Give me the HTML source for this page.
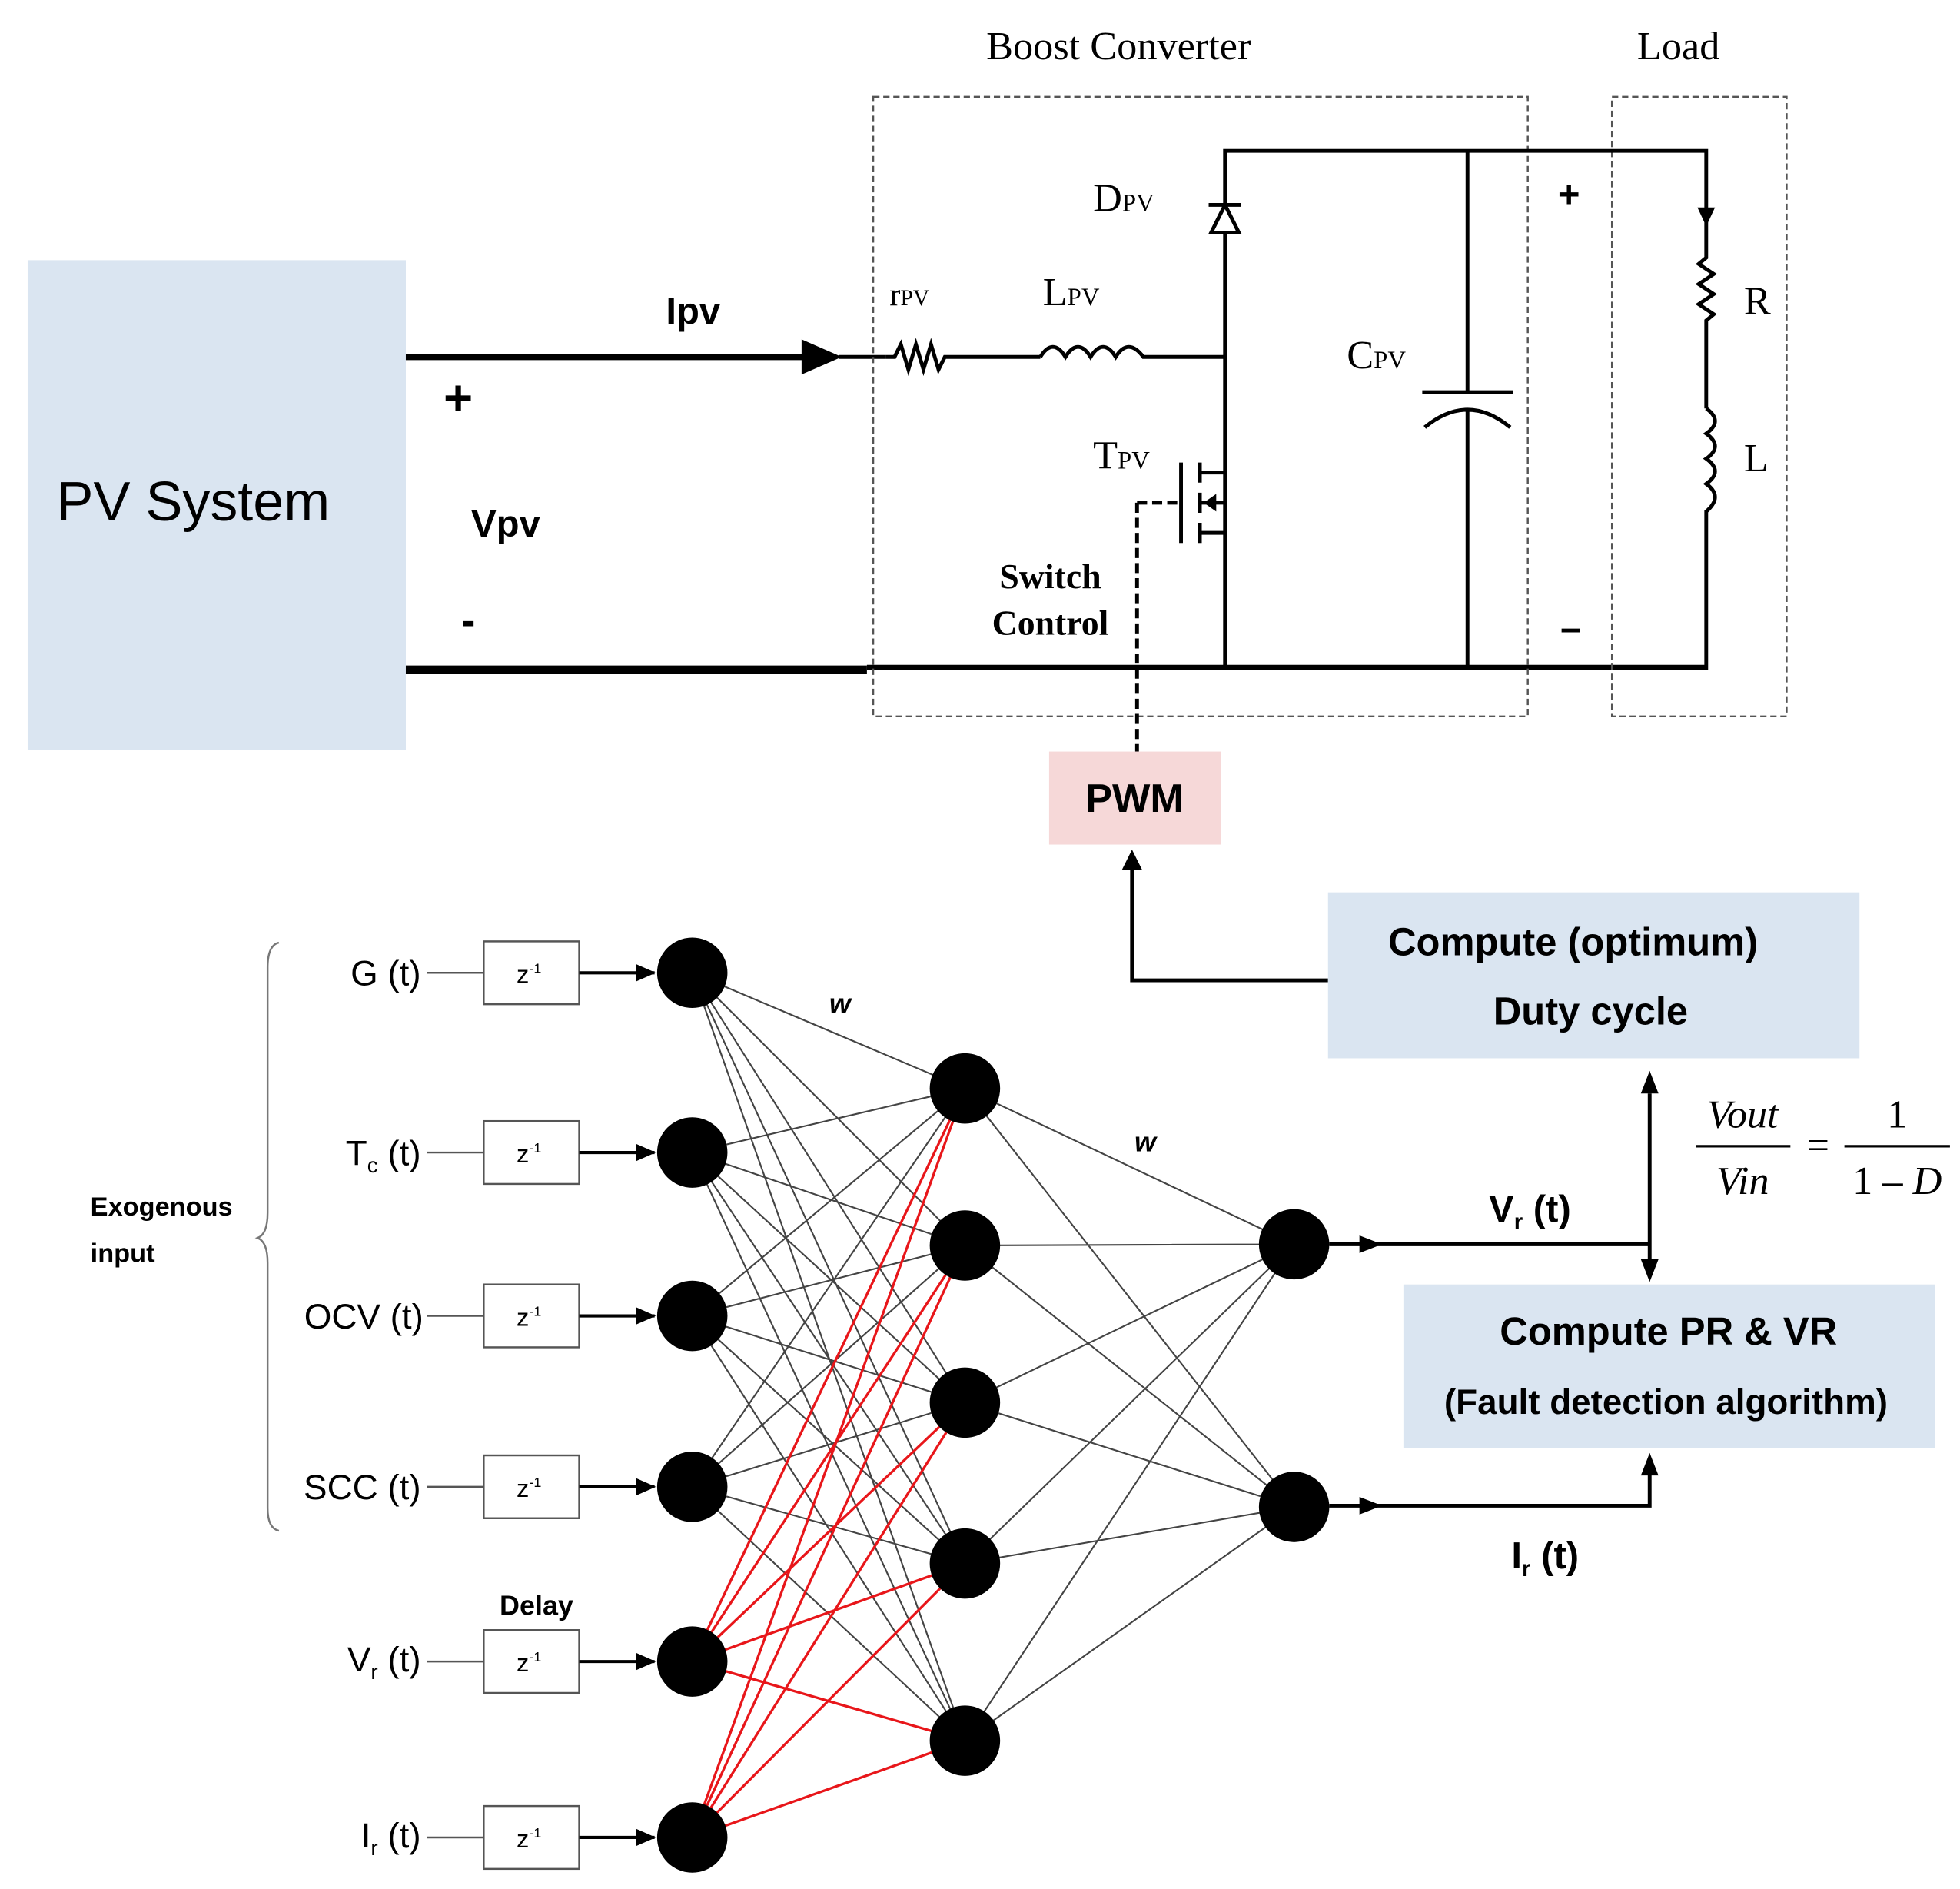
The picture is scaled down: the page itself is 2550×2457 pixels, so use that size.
<!DOCTYPE html>
<html><head><meta charset="utf-8"><style>html,body{margin:0;padding:0;background:#fff}svg{display:block}</style></head><body>
<svg width="2550" height="2457" viewBox="0 0 1560 1503" preserveAspectRatio="none" xmlns="http://www.w3.org/2000/svg">
<defs>
<marker id="ar2" markerWidth="16" markerHeight="14" refX="15" refY="7" orient="auto" markerUnits="userSpaceOnUse"><path d="M0,0 L16,7 L0,14z" fill="#000"/></marker></defs>
<g font-family="Liberation Sans, sans-serif">
<rect x="22" y="207" width="301" height="390" fill="#dae5f1"/>
<text x="45" y="414" font-size="44">PV System</text>
<line x1="323" y1="284" x2="640" y2="284" stroke="#000" stroke-width="5"/>
<path d="M638,270 L670,284 L638,298z" fill="#000"/>
<line x1="668" y1="284" x2="705" y2="284" stroke="#000" stroke-width="3"/>
<text x="530" y="258" font-size="30" font-weight="bold">Ipv</text>
<text x="353" y="330" font-size="40" font-weight="bold">+</text>
<text x="375" y="427" font-size="30" font-weight="bold">Vpv</text>
<text x="367" y="505" font-size="34" font-weight="bold">-</text>
<line x1="323" y1="533" x2="690" y2="533" stroke="#000" stroke-width="7"/>
<line x1="690" y1="531" x2="1358" y2="531" stroke="#000" stroke-width="4"/>
<rect x="695" y="77" width="521" height="493" fill="none" stroke="#555" stroke-width="1.5" stroke-dasharray="5,3"/>
<rect x="1283" y="77" width="139" height="493" fill="none" stroke="#555" stroke-width="1.5" stroke-dasharray="5,3"/>
<g font-family="Liberation Serif, serif" font-size="32">
<text x="785" y="47">Boost Converter</text><text x="1303" y="47">Load</text>
<text x="870" y="168">D<tspan font-size="20">PV</tspan></text>
<text x="708" y="243" font-size="26">r<tspan font-size="18">PV</tspan></text>
<text x="830" y="243">L<tspan font-size="20">PV</tspan></text>
<text x="1072" y="293">C<tspan font-size="20">PV</tspan></text>
<text x="870" y="373">T<tspan font-size="20">PV</tspan></text>
<text x="836" y="468" font-size="28" font-weight="bold" text-anchor="middle">Switch</text>
<text x="836" y="505" font-size="28" font-weight="bold" text-anchor="middle">Control</text>
<text x="1388" y="250">R</text><text x="1388" y="375">L</text>
</g>
<text x="1240" y="165" font-size="30" font-weight="bold">+</text>
<text x="1242" y="510" font-size="30" font-weight="bold">–</text>
<g fill="none" stroke="#000" stroke-width="3">
<path d="M705,284 L712,284 L717,274 L723,294 L729,274 L735,294 L741,274 L747,294 L752,284 L828,284"/>
<path d="M828,284 q10,-16 20,0 q10,-16 20,0 q10,-16 20,0 q10,-16 22,0 L975,284"/>
<path d="M975,533 L975,120 L1358,120 L1358,205 L1352,210 L1364,218 L1352,226 L1364,234 L1352,242 L1364,250 L1358,255 L1358,325"/>
<path d="M1358,325 q14,10 0,20 q14,10 0,20 q14,10 0,20 q14,10 0,22 L1358,533"/>
<path d="M1168,120 L1168,312 M1132,312 L1204,312 M1134,340 Q1168,312 1202,340 M1168,326 L1168,533"/>
<path d="M940,368 L940,432 M955,368 L955,384 M955,392 L955,408 M955,416 L955,432 M955,376 L975,376 M955,400 L975,400 M955,424 L975,424"/>
</g>
<path d="M964,185 L986,185 L975,163z" fill="#fff" stroke="#000" stroke-width="3"/>
<line x1="962" y1="163" x2="988" y2="163" stroke="#000" stroke-width="3"/>
<path d="M1351,165 L1365,165 L1358,180z" fill="#000"/>
<path d="M958,400 L968,393 L968,407z" fill="#000"/>
<path d="M905,400 L940,400 M905,400 L905,598" stroke="#000" stroke-width="3" stroke-dasharray="8,4" fill="none"/>
<rect x="835" y="598" width="137" height="74" fill="#f6d8d8"/>
<text x="903" y="646" font-size="32" font-weight="bold" text-anchor="middle">PWM</text>
<path d="M1057,780 L901,780 L901,690" fill="none" stroke="#000" stroke-width="3"/>
<path d="M893,692 L901,676 L909,692z" fill="#000"/>
<rect x="1057" y="710" width="423" height="132" fill="#dae5f1"/>
<text x="1252" y="760" font-size="31" font-weight="bold" text-anchor="middle">Compute (optimum)</text>
<text x="1266" y="815" font-size="31" font-weight="bold" text-anchor="middle">Duty cycle</text>
<rect x="1117" y="1022" width="423" height="130" fill="#dae5f1"/>
<text x="1328" y="1070" font-size="31" font-weight="bold" text-anchor="middle">Compute PR &amp; VR</text>
<text x="1326" y="1125" font-size="28" font-weight="bold" text-anchor="middle">(Fault detection algorithm)</text>
<g font-family="Liberation Serif, serif" font-size="32">
<text x="1387" y="897" font-style="italic" text-anchor="middle">Vout</text>
<line x1="1350" y1="912" x2="1425" y2="912" stroke="#000" stroke-width="2"/>
<text x="1387" y="950" font-style="italic" text-anchor="middle">Vin</text>
<text x="1447" y="922" text-anchor="middle">=</text>
<text x="1510" y="897" text-anchor="middle">1</text>
<line x1="1468" y1="912" x2="1552" y2="912" stroke="#000" stroke-width="2"/>
<text x="1510" y="950" text-anchor="middle">1 – <tspan font-style="italic">D</tspan></text>
</g>
<path d="M1313,870 L1313,1005" stroke="#000" stroke-width="3"/>
<path d="M1306,870 L1313,852 L1320,870z M1306,1002 L1313,1020 L1320,1002z" fill="#000"/>
<path d="M1058,990 L1313,990" stroke="#000" stroke-width="3"/>
<path d="M1058,1198 L1313,1198 L1313,1172" fill="none" stroke="#000" stroke-width="3"/>
<path d="M1306,1174 L1313,1156 L1320,1174z" fill="#000"/>
<path d="M1082,983 L1100,990 L1082,997z M1082,1191 L1100,1198 L1082,1205z" fill="#000"/>
<text x="1185" y="972" font-size="30" font-weight="bold">V<tspan font-size="18" dy="6">r</tspan><tspan dy="-6"> (t)</tspan></text>
<text x="1203" y="1248" font-size="30" font-weight="bold">I<tspan font-size="18" dy="6">r</tspan><tspan dy="-6"> (t)</tspan></text>
<g stroke="#444" stroke-width="1.3">
<path d="M551,774L768,866M551,774L768,991M551,774L768,1116M551,774L768,1244M551,774L768,1385
M551,917L768,866M551,917L768,991M551,917L768,1116M551,917L768,1244M551,917L768,1385
M551,1047L768,866M551,1047L768,991M551,1047L768,1116M551,1047L768,1244M551,1047L768,1385
M551,1183L768,866M551,1183L768,991M551,1183L768,1116M551,1183L768,1244M551,1183L768,1385
M768,866L1030,990M768,866L1030,1199M768,991L1030,990M768,991L1030,1199M768,1116L1030,990M768,1116L1030,1199M768,1244L1030,990M768,1244L1030,1199M768,1385L1030,990M768,1385L1030,1199"/>
</g>
<g stroke="#e8161a" stroke-width="2">
<path d="M551,1322L768,866M551,1322L768,991M551,1322L768,1116M551,1322L768,1244M551,1322L768,1385
M551,1462L768,866M551,1462L768,991M551,1462L768,1116M551,1462L768,1244M551,1462L768,1385"/>
</g>
<g fill="#000">
<circle cx="551" cy="774" r="28"/><circle cx="551" cy="917" r="28"/><circle cx="551" cy="1047" r="28"/><circle cx="551" cy="1183" r="28"/><circle cx="551" cy="1322" r="28"/><circle cx="551" cy="1462" r="28"/>
<circle cx="768" cy="866" r="28"/><circle cx="768" cy="991" r="28"/><circle cx="768" cy="1116" r="28"/><circle cx="768" cy="1244" r="28"/><circle cx="768" cy="1385" r="28"/>
<circle cx="1030" cy="990" r="28"/><circle cx="1030" cy="1199" r="28"/>
</g>
<text x="660" y="806" font-size="22" font-weight="bold" font-style="italic">w</text>
<text x="903" y="916" font-size="22" font-weight="bold" font-style="italic">w</text>
<g font-size="28" text-anchor="end">
<text x="335" y="784">G (t)</text>
<text x="335" y="927">T<tspan font-size="17" dy="6">c</tspan><tspan dy="-6"> (t)</tspan></text>
<text x="337" y="1057">OCV (t)</text>
<text x="335" y="1193">SCC (t)</text>
<text x="335" y="1330">V<tspan font-size="17" dy="6">r</tspan><tspan dy="-6"> (t)</tspan></text>
<text x="335" y="1470">I<tspan font-size="17" dy="6">r</tspan><tspan dy="-6"> (t)</tspan></text>
</g>
<g stroke="#555" stroke-width="1.5" fill="#fff">
<rect x="385" y="749" width="76" height="50"/><rect x="385" y="892" width="76" height="50"/><rect x="385" y="1022" width="76" height="50"/><rect x="385" y="1158" width="76" height="50"/><rect x="385" y="1297" width="76" height="50"/><rect x="385" y="1437" width="76" height="50"/>
<path d="M340,774H385M340,917H385M340,1047H385M340,1183H385M340,1322H385M340,1462H385" fill="none"/>
</g>
<g stroke="#000" stroke-width="2.5" marker-end="url(#ar2)">
<line x1="461" y1="774" x2="521" y2="774"/>
<line x1="461" y1="917" x2="521" y2="917"/>
<line x1="461" y1="1047" x2="521" y2="1047"/>
<line x1="461" y1="1183" x2="521" y2="1183"/>
<line x1="461" y1="1322" x2="521" y2="1322"/>
<line x1="461" y1="1462" x2="521" y2="1462"/>
</g>
<g font-size="20" text-anchor="middle">
<text x="421" y="782">z<tspan font-size="11" dy="-8">-1</tspan></text><text x="421" y="925">z<tspan font-size="11" dy="-8">-1</tspan></text><text x="421" y="1055">z<tspan font-size="11" dy="-8">-1</tspan></text><text x="421" y="1191">z<tspan font-size="11" dy="-8">-1</tspan></text><text x="421" y="1330">z<tspan font-size="11" dy="-8">-1</tspan></text><text x="421" y="1470">z<tspan font-size="11" dy="-8">-1</tspan></text>
</g>
<text x="427" y="1285" font-size="22" font-weight="bold" text-anchor="middle">Delay</text>
<text x="72" y="967" font-size="21" font-weight="bold">Exogenous</text>
<text x="72" y="1004" font-size="21" font-weight="bold">input</text>
<path d="M222,750 Q213,752 213,770 L213,965 Q213,982 205,985 Q213,988 213,1005 L213,1200 Q213,1216 222,1218" fill="none" stroke="#777" stroke-width="1.5"/>
</g>
</svg>
</body></html>
